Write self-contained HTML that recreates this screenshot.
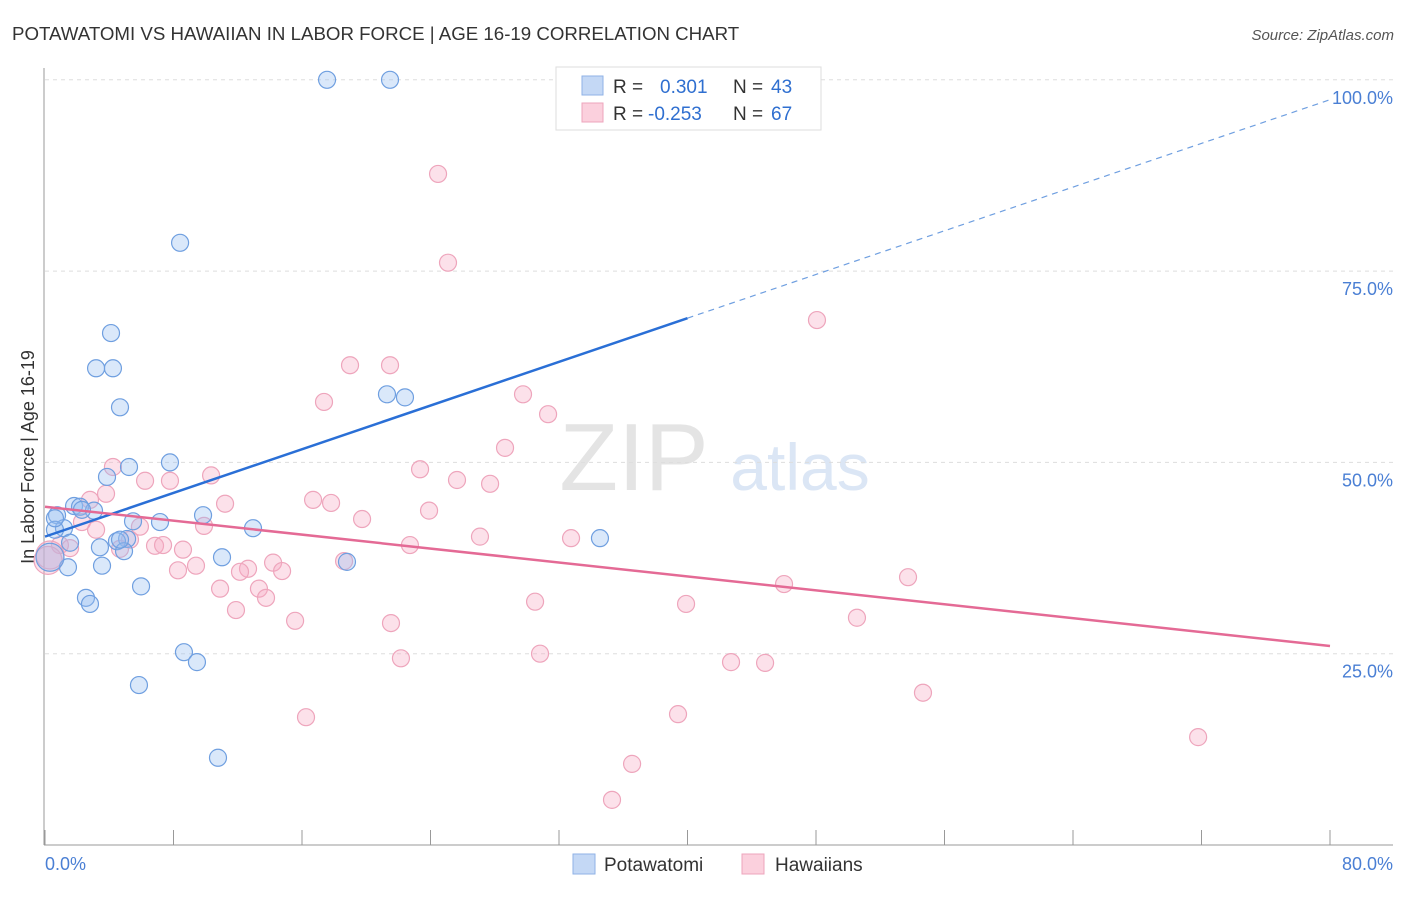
<!DOCTYPE html>
<html><head><meta charset="utf-8"><style>
body{margin:0;background:#fff;font-family:"Liberation Sans",sans-serif}
svg text{font-family:"Liberation Sans",sans-serif}
</style></head><body>
<svg id="c" width="1406" height="892">
<text x="12" y="40" font-size="18.7" fill="#333">POTAWATOMI VS HAWAIIAN IN LABOR FORCE | AGE 16-19 CORRELATION CHART</text>
<text x="1394" y="40" font-size="15" fill="#555" text-anchor="end" font-style="italic">Source: ZipAtlas.com</text>
<text x="634" y="490" font-size="96" fill="#e4e4e4" font-family="Liberation Serif" text-anchor="middle">ZIP</text>
<text x="800" y="490" font-size="66" fill="#dbe6f5" text-anchor="middle">atlas</text>
<text transform="translate(34,457) rotate(-90)" font-size="18" fill="#333" text-anchor="middle">In Labor Force | Age 16-19</text>
<g id="grid"></g><g id="pts"></g><g id="trend"></g>
<g>
<rect x="556" y="67" width="265" height="63" fill="#fff" stroke="#ddd"/>
<rect x="582" y="76" width="21" height="19" fill="#c4d8f5" stroke="#8fb2e6"/>
<rect x="582" y="103" width="21" height="19" fill="#fbd0dd" stroke="#eea5bc"/>
<text x="613" y="93" font-size="19" fill="#333">R = </text><text x="660" y="93" font-size="19" fill="#2f6fd0">0.301</text>
<text x="733" y="93" font-size="19" fill="#333">N = </text><text x="771" y="93" font-size="19" fill="#2f6fd0">43</text>
<text x="613" y="120" font-size="19" fill="#333">R = </text><text x="648" y="120" font-size="19" fill="#2f6fd0">-0.253</text>
<text x="733" y="120" font-size="19" fill="#333">N = </text><text x="771" y="120" font-size="19" fill="#2f6fd0">67</text>
</g>
<g>
<rect x="573" y="854" width="22" height="20" fill="#c4d8f5" stroke="#8fb2e6"/>
<text x="604" y="871" font-size="19" fill="#333">Potawatomi</text>
<rect x="742" y="854" width="22" height="20" fill="#fbd0dd" stroke="#eea5bc"/>
<text x="775" y="871" font-size="19" fill="#333">Hawaiians</text>
</g>
</svg>
<script>
const blueX=[17.56,21.48,8.41,4.11,3.18,4.23,4.67,21.29,22.41,7.78,5.23,3.86,1.81,2.18,3.05,0.75,5.48,7.16,9.84,1.18,0.62,12.95,1.56,3.42,5.11,4.48,4.92,11.02,18.8,34.55,1.43,3.55,5.98,2.55,2.8,8.65,9.46,5.85,10.77,0.31,0.62,2.3,4.67];
const blueY=[100,100,78.7,66.9,62.3,62.3,57.2,58.9,58.5,50,49.4,48.1,44.3,44.2,43.7,43.1,42.3,42.2,43.1,41.4,41.2,41.4,39.5,38.9,40,39.7,38.4,37.6,37,40.1,36.3,36.5,33.8,32.3,31.5,25.2,23.9,20.9,11.4,37.6,42.7,43.8,39.9];
const pinkX=[24.47,25.09,48.06,18.99,21.48,17.37,29.76,31.32,28.64,23.35,10.34,4.23,25.65,27.71,6.23,7.78,3.8,2.8,16.69,17.81,11.21,23.91,19.74,2.3,5.91,9.9,3.18,27.08,32.75,22.72,5.29,6.85,7.35,8.59,4.67,0.93,1.56,0.31,0.19,14.2,18.62,12.64,12.14,9.4,8.28,14.76,10.9,13.32,13.76,11.89,53.73,46.01,30.51,39.91,50.55,15.57,21.54,22.16,30.82,42.71,44.83,54.66,16.25,39.41,71.79,36.55,35.3];
const pinkY=[87.7,76.1,68.6,62.7,62.7,57.9,58.9,56.3,51.9,49.1,48.3,49.4,47.7,47.2,47.6,47.6,45.9,45.1,45.1,44.7,44.6,43.7,42.6,42.2,41.6,41.7,41.2,40.3,40.1,39.2,39.9,39.1,39.2,38.6,38.7,39.2,38.8,37.9,37.2,36.9,37.1,36.1,35.7,36.5,35.9,35.8,33.5,33.5,32.3,30.7,35,34.1,31.8,31.5,29.7,29.3,29,24.4,25,23.9,23.8,19.9,16.7,17.1,14.1,10.6,5.9];
const blueTrend=[40.3,97.4];
const pinkTrend=[44.2,26.0];
const yTicks=[25,50,75,100];
const yTickLabels=["25.0%","50.0%","75.0%","100.0%"];
const xTickLabels=["0.0%","80.0%"];
const NS="http://www.w3.org/2000/svg";
const sx=v=>45+v/80*1285, sy=v=>845-v/25*191.3;
function mk(t,a,p){const e=document.createElementNS(NS,t);for(const k in a)e.setAttribute(k,a[k]);p.appendChild(e);return e;}
const grid=document.getElementById('grid');
yTicks.forEach((t,i)=>{
 const l=mk('line',{x1:45,x2:1393,y1:sy(t),y2:sy(t),stroke:'#ddd','stroke-dasharray':'4,4'},grid);
 
 
 const tx=mk('text',{x:1393,y:sy(t)+24,'font-size':18,fill:'#4a7fd4','text-anchor':'end'},grid);
 tx.textContent=yTickLabels[i];
 
 
});
const ax=mk('line',{x1:44,x2:44,y1:68,y2:845,stroke:'#999'},grid);


const bx=mk('line',{x1:44,x2:1393,y1:845,y2:845,stroke:'#999'},grid);


for(let i=0;i<=10;i++){const t=mk('line',{x1:sx(i*8),x2:sx(i*8),y1:830,y2:845,stroke:'#999'},grid);
 
 }
[[0,'start',45],[80,'end',1393]].forEach((d,i)=>{const t=mk('text',{x:d[2],y:870,'font-size':18,fill:'#4a7fd4','text-anchor':d[1]},grid);t.textContent=xTickLabels[i];
 
 });
const pts=document.getElementById('pts');
function dots(X,Y,f,s,name){X.forEach((x,i)=>{const r=(x<0.5&&Y[i]>37&&Y[i]<38.2)?14:8.5;
 const c=mk('circle',{cx:sx(x),cy:sy(Y[i]),r:r,fill:f,stroke:s,'stroke-width':1.2},pts);
 
 });}
dots(pinkX,pinkY,'rgba(246,170,196,0.35)','#eea5bc','hawaiian-point');
dots(blueX,blueY,'rgba(150,190,240,0.35)','#6f9fe0','potawatomi-point');
const tr=document.getElementById('trend');
const by=x=>blueTrend[0]+(blueTrend[1]-blueTrend[0])*x/80;
const py=x=>pinkTrend[0]+(pinkTrend[1]-pinkTrend[0])*x/80;
let l1=mk('line',{x1:sx(0),y1:sy(by(0)),x2:sx(40),y2:sy(by(40)),stroke:'#2a6fd6','stroke-width':2.5},tr);


let l2=mk('line',{x1:sx(40),y1:sy(by(40)),x2:sx(80),y2:sy(by(80)),stroke:'#6f9fe0','stroke-width':1.2,'stroke-dasharray':'6,5'},tr);


let l3=mk('line',{x1:sx(0),y1:sy(py(0)),x2:sx(80),y2:sy(py(80)),stroke:'#e46a95','stroke-width':2.5},tr);


</script>
</body></html>
